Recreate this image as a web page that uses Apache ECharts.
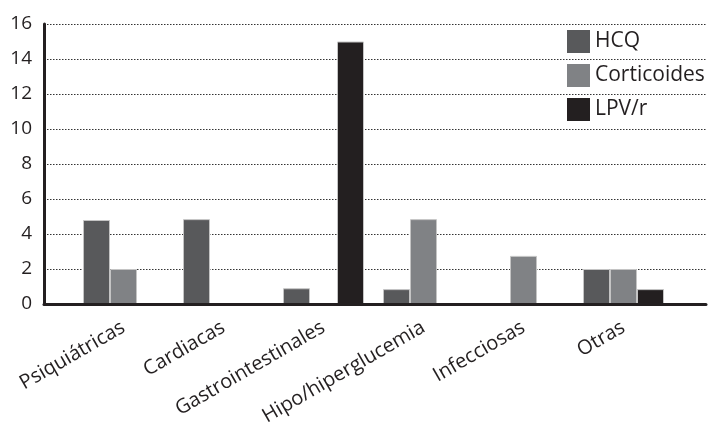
<!DOCTYPE html>
<html><head><meta charset="utf-8">
<script src="https://cdn.jsdelivr.net/npm/echarts@6/dist/echarts.min.js"></script>
<style>html,body{margin:0;padding:0;background:#fff}#c{width:709px;height:430px}</style>
</head><body><div id="c"></div>
<script>
const categories = ['Psiquiátricas','Cardiacas','Gastrointestinales','Hipo/hiperglucemia','Infecciosas','Otras'];
const hcq = [4.8, 4.85, 0.9, 0.85, 0, 2];
const corticoides = [2, 0, 0, 4.85, 2.75, 2];
const lpvr = [0, 0, 15, 0, 0, 0.85];
const seriesNames = ['HCQ','Corticoides','LPV/r'];
const yTicks = {min: 0, max: 16, interval: 2};

const font = '"Open Sans", "Noto Sans", sans-serif';
const txt = '#231f20';
const chart = echarts.init(document.getElementById('c'), null, {renderer:'canvas'});
const mk = (name, data, color) => ({
  name, type:'bar', data: data.map(v => v === 0 ? '-' : v), xAxisIndex:1, yAxisIndex:1,
  barWidth:27, barGap:'0%',
  itemStyle:{color, borderColor:'#c4c4c4', borderWidth:1},
  emphasis:{disabled:true}
});
chart.setOption({
  animation:false,
  backgroundColor:'#fff',
  grid:[
    {left:44, right:3, top:24, bottom:126, outerBoundsMode:'none', containLabel:false},
    {left:73.5, right:35.5, top:24, bottom:126, outerBoundsMode:'none', containLabel:false}
  ],
  legend:{
    orient:'vertical', left:567, top:30, padding:0, itemWidth:23, itemHeight:23, itemGap:11,
    icon:'rect', data:seriesNames,
    itemStyle:{borderWidth:0},
    textStyle:{fontFamily:font, fontSize:21, color:txt}
  },
  xAxis:[
    {gridIndex:0, type:'category', data:categories, axisLabel:{show:false}, axisTick:{show:false},
     axisLine:{lineStyle:{color:txt, width:3}}, z:5},
    {gridIndex:1, type:'category', data:categories, axisTick:{show:false}, axisLine:{show:false},
     axisLabel:{rotate:30, margin:22, fontFamily:font, fontSize:20, color:txt, interval:0, hideOverlap:false}}
  ],
  yAxis:[
    {gridIndex:0, type:'value', min:yTicks.min, max:yTicks.max, interval:yTicks.interval,
     axisLine:{show:true, lineStyle:{color:txt, width:3}}, axisTick:{show:false},
     axisLabel:{margin:12, fontFamily:font, fontSize:19, color:txt},
     splitLine:{show:true, lineStyle:{color:'#333', type:[1.5,1.5], width:1}}},
    {gridIndex:1, type:'value', min:yTicks.min, max:yTicks.max, interval:yTicks.interval, show:false, splitLine:{show:false}}
  ],
  series:[
    mk(seriesNames[0], hcq, '#58595b'),
    mk(seriesNames[1], corticoides, '#808285'),
    mk(seriesNames[2], lpvr, '#231f20')
  ]
});
</script></body></html>
